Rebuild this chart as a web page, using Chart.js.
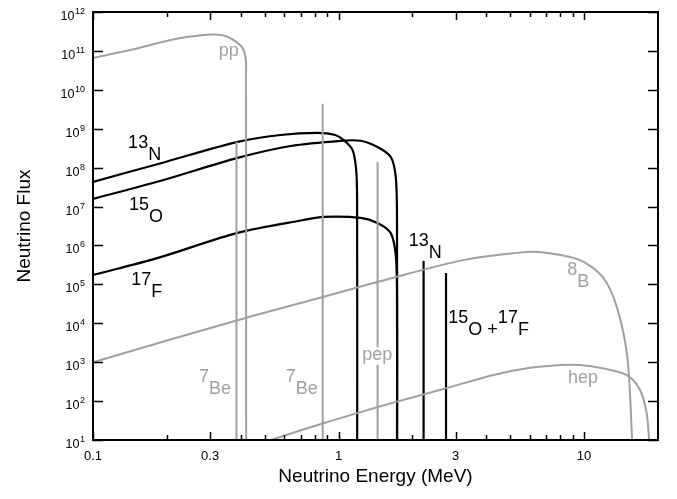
<!DOCTYPE html>
<html>
<head>
<meta charset="utf-8">
<script src="https://cdn.jsdelivr.net/npm/chart.js@4.4.1/dist/chart.umd.min.js"></script>
<style>
  html, body { margin: 0; padding: 0; background: #fff; }
  #wrap { width: 677px; height: 499px; }
</style>
</head>
<body>
<div id="wrap"><canvas id="chart"></canvas></div>
<script>
// 太陽微中子能譜: 能量 (MeV) 與通量

// 連續譜
const ppEnergy = [0.1, 0.143, 0.184, 0.228, 0.292, 0.341, 0.374, 0.407, 0.419, 0.42, 0.4205]
const ppFlux = [6.6e10, 1.07e11, 1.6e11, 2.14e11, 2.6e11, 2.5e11, 1.9e11, 1.18e11, 5.9e10, 2.2e10, 10]

const n13Energy = [0.1, 0.189, 0.388, 0.58, 0.82, 0.97, 1.05, 1.14, 1.18, 1.19, 1.191]
const n13Flux = [4.3e7, 1.3e8, 4.6e8, 6.9e8, 7.8e8, 6.9e8, 5.1e8, 2.85e8, 8.7e7, 1.5e7, 10]

const o15Energy = [0.1, 0.189, 0.388, 0.638, 1.02, 1.23, 1.44, 1.63, 1.71, 1.73, 1.731]
const o15Flux = [1.57e7, 4.6e7, 1.78e8, 3.6e8, 4.9e8, 4.9e8, 3.4e8, 1.9e8, 5.8e7, 4.5e6, 10]

const f17Energy = [0.1, 0.184, 0.388, 0.72, 0.87, 1.23, 1.44, 1.63, 1.71, 1.73, 1.731]
const f17Flux = [1.74e5, 4.8e5, 2.1e6, 4.5e6, 5.4e6, 5.1e6, 3.8e6, 2.1e6, 5.7e5, 7.2e4, 10]

const b8Energy = [0.1, 0.388, 0.871, 1.44, 3.22, 5.86, 7.08, 9.63, 11.9, 13.6, 15.0, 15.7]
const b8Flux = [1.0e3, 1.2e4, 4.8e4, 1.15e5, 4.2e5, 6.8e5, 6.4e5, 4.2e5, 1.55e5, 2.6e4, 1350, 10]

const hepEnergy = [0.53, 0.867, 1.19, 1.73, 2.74, 4.28, 5.85, 7.98, 9.63, 11.9, 14.9, 16.9, 17.98, 18.4]
const hepFlux = [10, 27, 49, 97, 213, 469, 697, 847, 847, 697, 469, 193, 49, 10]

// 線譜
const lineSource = ["7Be", "7Be", "pep", "13N", "15O+17F"]
const lineCycle = ["pp", "pp", "pp", "cno", "cno"]
const lineEnergy = [0.384, 0.862, 1.442, 2.22, 2.74]
const lineFlux = [4.6e8, 4.4e9, 1.4e8, 4.0e5, 1.96e5]

// 座標軸刻度
const xMajorTicks = [0.1, 0.3, 1, 3, 10]
const xMinorTicks = [0.2, 0.4, 0.5, 0.6, 0.7, 0.8, 0.9, 2, 4, 5, 6, 7, 8, 9]
const xTickLabels = ["0.1", "0.3", "1", "3", "10"]
const yExponents = [1, 2, 3, 4, 5, 6, 7, 8, 9, 10, 11, 12]
const fluxFloor = 10

const BLACK = "#000000"
const GRAY = "#a0a0a0"
const FONT = '"Liberation Sans", Arial, Helvetica, sans-serif'

// 圖上文字標註 (以能量/通量定位)
const notes = [
  { runs: [["pp", 0]], e: 0.325, f: 7.4e10, color: GRAY },
  { runs: [["13", 0], ["N", 12]], e: 0.139, f: 3.2e8, color: BLACK },
  { runs: [["15", 0], ["O", 12]], e: 0.14, f: 8.1e6, color: BLACK },
  { runs: [["17", 0], ["F", 12]], e: 0.143, f: 9.5e4, color: BLACK },
  { runs: [["7", 0], ["Be", 12]], e: 0.27, f: 310, color: GRAY },
  { runs: [["7", 0], ["Be", 12]], e: 0.61, f: 310, color: GRAY },
  { runs: [["pep", 0]], e: 1.25, f: 1150, color: GRAY, bg: true },
  { runs: [["13", 0], ["N", 12]], e: 1.93, f: 9.8e5, color: BLACK },
  { runs: [["15", 0], ["O", 12], [" +", 12], ["17", 0], ["F", 12]], e: 2.8, f: 1.0e4, color: BLACK },
  { runs: [["8", 0], ["B", 12]], e: 8.53, f: 1.75e5, color: GRAY },
  { runs: [["hep", 0]], e: 8.6, f: 295, color: GRAY },
]

function series(energy, flux) {
  return energy.map((e, i) => ({ x: e, y: flux[i] }))
}

function curve(label, energy, flux, color, width) {
  return { label, data: series(energy, flux), borderColor: color, borderWidth: width, tension: 0.3 }
}

const lineSets = lineEnergy.map((e, i) => ({
  label: lineSource[i],
  data: [{ x: e, y: fluxFloor }, { x: e, y: lineFlux[i] }],
  borderColor: lineCycle[i] === "cno" ? BLACK : GRAY,
  borderWidth: lineCycle[i] === "cno" ? 2.2 : 2,
  tension: 0,
}))

// 外框、內向刻度與文字
const frameAndText = {
  id: "frameAndText",
  afterDraw(chart) {
    const { ctx, chartArea: a, scales } = chart
    const x = scales.x
    const y = scales.y
    ctx.save()

    ctx.strokeStyle = BLACK
    ctx.lineWidth = 2
    ctx.strokeRect(a.left, a.top, a.right - a.left, a.bottom - a.top)

    ctx.lineWidth = 1.5
    ctx.beginPath()
    const xTick = (v, len) => {
      const px = Math.round(x.getPixelForValue(v)) + 0.5
      ctx.moveTo(px, a.bottom); ctx.lineTo(px, a.bottom - len)
      ctx.moveTo(px, a.top); ctx.lineTo(px, a.top + len)
    }
    xMajorTicks.forEach((v) => xTick(v, 8))
    xMinorTicks.forEach((v) => xTick(v, 5))
    yExponents.forEach((p) => {
      const py = Math.round(y.getPixelForValue(Math.pow(10, p))) + 0.5
      ctx.moveTo(a.left, py); ctx.lineTo(a.left + 10, py)
      ctx.moveTo(a.right, py); ctx.lineTo(a.right - 10, py)
    })
    ctx.stroke()

    // x 軸刻度文字
    ctx.fillStyle = BLACK
    ctx.font = "13px " + FONT
    ctx.textAlign = "center"
    ctx.textBaseline = "alphabetic"
    xMajorTicks.forEach((v, i) => {
      ctx.fillText(xTickLabels[i], x.getPixelForValue(v), a.bottom + 20)
    })

    // y 軸刻度文字 10 的次方
    ctx.textAlign = "right"
    yExponents.forEach((p) => {
      const py = y.getPixelForValue(Math.pow(10, p))
      const right = a.left - 8
      ctx.font = "9px " + FONT
      const ew = ctx.measureText(String(p)).width
      ctx.fillText(String(p), right, py + 2)
      ctx.font = "12.5px " + FONT
      ctx.fillText("10", right - ew - 0.5, py + 8)
    })

    // 軸標題
    ctx.font = "19px " + FONT
    ctx.textAlign = "center"
    ctx.textBaseline = "middle"
    ctx.fillText("Neutrino Energy (MeV)", (a.left + a.right) / 2, 477)
    ctx.save()
    ctx.translate(25, (a.top + a.bottom) / 2)
    ctx.rotate(-Math.PI / 2)
    ctx.fillText("Neutrino Flux", 0, 0)
    ctx.restore()

    // 標註
    ctx.textAlign = "left"
    ctx.textBaseline = "alphabetic"
    ctx.font = "18px " + FONT
    notes.forEach((n) => {
      const x0 = x.getPixelForValue(n.e)
      const y0 = y.getPixelForValue(n.f)
      if (n.bg) {
        const w = n.runs.reduce((s, r) => s + ctx.measureText(r[0]).width, 0)
        ctx.fillStyle = "#fff"
        ctx.fillRect(x0 - 1, y0 - 13, w + 2, 18)
      }
      ctx.fillStyle = n.color
      let cx = x0
      n.runs.forEach(([t, dy]) => {
        ctx.fillText(t, cx, y0 + dy)
        cx += ctx.measureText(t).width
      })
    })

    ctx.restore()
  },
}

new Chart(document.getElementById("chart"), {
  type: "line",
  data: {
    datasets: [
      curve("pp", ppEnergy, ppFlux, GRAY, 2),
      curve("8B", b8Energy, b8Flux, GRAY, 2),
      curve("hep", hepEnergy, hepFlux, GRAY, 2),
      ...lineSets,
      curve("13N", n13Energy, n13Flux, BLACK, 2.2),
      curve("15O", o15Energy, o15Flux, BLACK, 2.2),
      curve("17F", f17Energy, f17Flux, BLACK, 2.2),
    ],
  },
  options: {
    responsive: true,
    maintainAspectRatio: false,
    animation: false,
    layout: { padding: { left: 93, right: 19, top: 12, bottom: 59 } },
    elements: { point: { radius: 0 } },
    plugins: { legend: { display: false }, tooltip: { enabled: false } },
    scales: {
      x: { type: "logarithmic", min: 0.1, max: 20, display: false },
      y: { type: "logarithmic", min: 10, max: 1e12, display: false },
    },
  },
  plugins: [frameAndText],
})
</script>
</body>
</html>
